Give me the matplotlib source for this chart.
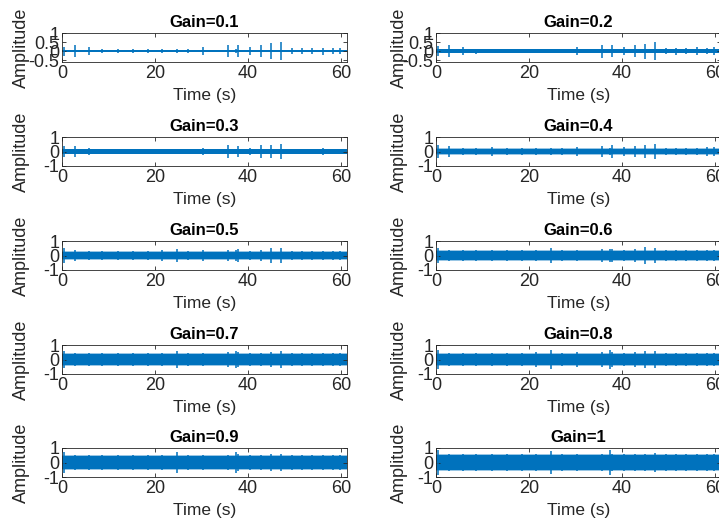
import matplotlib
matplotlib.use('Agg')
import matplotlib.pyplot as plt

plt.rcParams['font.family'] = ['Liberation Sans', 'DejaVu Sans']

# ---------------- data ----------------
gains = [0.1, 0.2, 0.3, 0.4, 0.5, 0.6, 0.7, 0.8, 0.9, 1]
titles = ['Gain=0.1', 'Gain=0.2', 'Gain=0.3', 'Gain=0.4', 'Gain=0.5',
          'Gain=0.6', 'Gain=0.7', 'Gain=0.8', 'Gain=0.9', 'Gain=1']
duration = 61.3  # seconds shown on the time axis

# half-width of the dense noise band for each gain
band_level = [0.06, 0.09, 0.14, 0.19, 0.26, 0.31, 0.36, 0.40, 0.44, 0.49]

# times (s) of the visible bursts
spike_times = [0.4, 2.8, 5.7, 30.4, 35.6, 37.9, 40.5, 42.8, 44.9, 47.1,
               49.4, 51.6, 53.7, 56.1, 58.2, 59.9,
               8.5, 12.0, 15.3, 18.6, 21.5, 24.7, 27.2, 37.4]

# burst half-amplitudes per gain (same order as spike_times)
spike_amp_01 = [0.25, 0.32, 0.22, 0.22, 0.35, 0.34, 0.22, 0.34, 0.45, 0.48,
                0.15, 0.17, 0.15, 0.20, 0.15, 0.15,
                0.12, 0.10, 0.10, 0.10, 0.10, 0.10, 0.10, 0.10]
spike_amp_02 = [0.28, 0.32, 0.24, 0.24, 0.36, 0.35, 0.24, 0.34, 0.42, 0.48,
                0.18, 0.20, 0.18, 0.22, 0.18, 0.22,
                0.14, 0.13, 0.13, 0.13, 0.13, 0.13, 0.13, 0.13]
spike_amp_03 = [0.40, 0.40, 0.23, 0.23, 0.43, 0.40, 0.22, 0.45, 0.47, 0.55,
                0.20, 0.20, 0.20, 0.25, 0.20, 0.20,
                0.18, 0.18, 0.18, 0.18, 0.20, 0.20, 0.18, 0.20]
spike_amp_04 = [0.45, 0.38, 0.26, 0.28, 0.35, 0.43, 0.28, 0.35, 0.42, 0.55,
                0.25, 0.25, 0.25, 0.25, 0.28, 0.30, 0.25, 0.30,
                0.25, 0.25, 0.25, 0.25, 0.25, 0.25]
spike_amp_05 = [0.50, 0.35, 0.32, 0.35, 0.40, 0.42, 0.32, 0.38, 0.50, 0.55,
                0.32, 0.32, 0.32, 0.32, 0.32, 0.32,
                0.32, 0.32, 0.32, 0.32, 0.35, 0.42, 0.32, 0.40]
spike_amp_06 = [0.55, 0.38, 0.36, 0.40, 0.45, 0.45, 0.38, 0.42, 0.57, 0.55,
                0.38, 0.38, 0.38, 0.38, 0.38, 0.38,
                0.38, 0.38, 0.38, 0.38, 0.40, 0.50, 0.38, 0.48]
spike_amp_07 = [0.60, 0.42, 0.42, 0.45, 0.50, 0.50, 0.42, 0.47, 0.55, 0.58,
                0.42, 0.42, 0.42, 0.42, 0.42, 0.42,
                0.42, 0.42, 0.42, 0.42, 0.45, 0.60, 0.42, 0.60]
spike_amp_08 = [0.65, 0.47, 0.47, 0.50, 0.52, 0.55, 0.47, 0.50, 0.58, 0.60,
                0.47, 0.47, 0.47, 0.47, 0.47, 0.47,
                0.47, 0.47, 0.47, 0.47, 0.50, 0.65, 0.47, 0.65]
spike_amp_09 = [0.75, 0.52, 0.52, 0.55, 0.55, 0.58, 0.52, 0.55, 0.60, 0.62,
                0.52, 0.52, 0.52, 0.52, 0.52, 0.52,
                0.52, 0.52, 0.52, 0.52, 0.55, 0.75, 0.52, 0.75]
spike_amp_10 = [0.85, 0.58, 0.58, 0.60, 0.60, 0.62, 0.58, 0.60, 0.62, 0.65,
                0.58, 0.58, 0.58, 0.58, 0.58, 0.58,
                0.58, 0.58, 0.58, 0.58, 0.60, 0.80, 0.58, 0.85]
spike_amps = [spike_amp_01, spike_amp_02, spike_amp_03, spike_amp_04, spike_amp_05,
              spike_amp_06, spike_amp_07, spike_amp_08, spike_amp_09, spike_amp_10]

x_ticks = [0, 20, 40, 60]
y_ticks_small = [-0.5, 0, 0.5, 1]
y_ticks_large = [-1, 0, 1]

# ---------------- figure ----------------
W, H = 719, 524
fig = plt.figure(figsize=(W / 100, H / 100), dpi=100)

col_left = [62, 436]
col_width = 285
row_top = [33, 137, 241, 345, 448]
ax_h = 29
ylabel_x = [-0.112, -0.10]

blue = '#0072BD'
txt = '#262626'

for i, g in enumerate(gains):
    r, c = divmod(i, 2)
    left = col_left[c] / W
    bottom = 1 - (row_top[r] + ax_h) / H
    ax = fig.add_axes([left, bottom, col_width / W, ax_h / H])

    b = band_level[i]
    ax.fill_between([0, duration], [-b * 1.15, -b * 1.15], [b * 1.15, b * 1.15],
                    color=blue, alpha=0.4, linewidth=0)
    ax.fill_between([0, duration], [-b, -b], [b, b], color=blue, linewidth=0)
    ax.vlines(spike_times, [-a for a in spike_amps[i]], spike_amps[i],
              color=blue, linewidth=1.1)

    ax.set_xlim(0, duration)
    if r == 0:
        ax.set_ylim(-0.6, 1)
        ax.set_yticks(y_ticks_small)
        ax.set_yticklabels(['-0.5', '0', '0.5', '1'])
    else:
        ax.set_ylim(-1, 1)
        ax.set_yticks(y_ticks_large)
        ax.set_yticklabels(['-1', '0', '1'])
    ax.set_xticks(x_ticks)

    ax.tick_params(direction='in', length=3, width=0.6, colors=txt,
                   labelsize=13, top=True, right=True, pad=2)
    for s in ax.spines.values():
        s.set_color(txt)
        s.set_linewidth(0.6)
    ax.set_title(titles[i], fontsize=12, fontweight='bold', color='black', pad=4)
    ax.set_xlabel('Time (s)', fontsize=12.5, color=txt)
    ax.xaxis.set_label_coords(0.5, -0.88)
    ax.set_ylabel('Amplitude', fontsize=13, color=txt)
    ax.yaxis.set_label_coords(ylabel_x[c], 0.5)

fig.savefig('out.png', dpi=100)
